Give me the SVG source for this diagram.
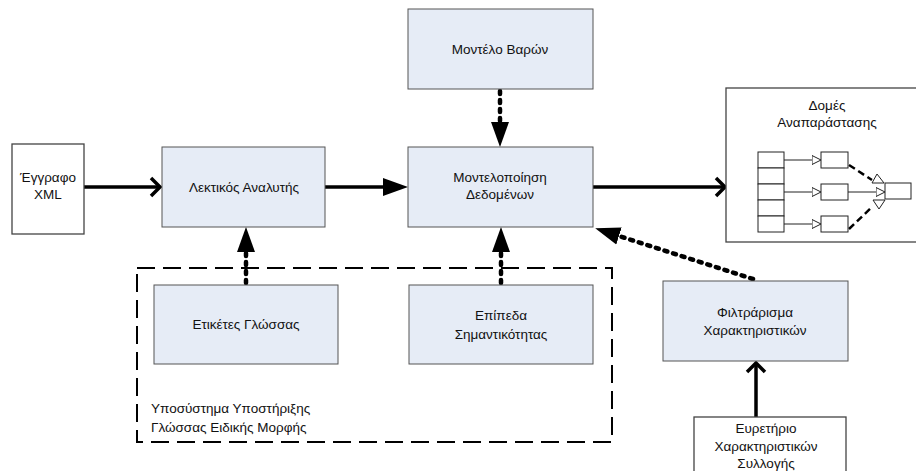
<svg xmlns="http://www.w3.org/2000/svg" width="916" height="471" viewBox="0 0 916 471">
  <style>
    text { font-family: "Liberation Sans", Arial, sans-serif; font-size: 13.5px; fill: #111; }
    .c { text-anchor: middle; }
    .box { fill: #e6ecf6; stroke: #555; stroke-width: 1; }
    .plain { fill: #fff; stroke: #444; stroke-width: 1.3; }
    .solid { fill: none; stroke: #000; stroke-width: 3.5; }
    .dotted { fill: none; stroke: #000; stroke-width: 4.5; stroke-dasharray: 3 6; stroke-linecap: round; }
    .group { fill: none; stroke: #000; stroke-width: 2; stroke-dasharray: 18 8; }
    .cell { fill: #fff; stroke: #222; stroke-width: 1; }
    .thin { fill: none; stroke: #222; stroke-width: 1; }
    .thindash { fill: none; stroke: #000; stroke-width: 2.5; stroke-dasharray: 7 4; }
    .hollow { fill: #fff; stroke: #222; stroke-width: 1; }
  </style>
  <defs>
    <marker id="open" markerUnits="userSpaceOnUse" markerWidth="20" markerHeight="24" viewBox="-12 -12 14 24" refX="0" refY="0" orient="auto">
      <path d="M-9,-9 L0,0 L-9,9" fill="none" stroke="#000" stroke-width="3.5"/>
    </marker>
    <marker id="filled" markerUnits="userSpaceOnUse" markerWidth="28" markerHeight="22" viewBox="0 -11 28 22" refX="0" refY="0" orient="auto">
      <path d="M0,-9 L25,0 L0,9 Z" fill="#000"/>
    </marker>
    <marker id="tri" markerUnits="userSpaceOnUse" markerWidth="12" markerHeight="12" viewBox="0 -6 12 12" refX="0" refY="0" orient="auto">
      <path d="M0,-4.5 L9,0 L0,4.5 Z" class="hollow"/>
    </marker>
  </defs>

  <!-- subsystem frame -->
  <g id="subsystem">
    <rect class="group" x="137" y="268" width="475" height="174"/>
    <text x="151" y="413">Υποσύστημα Υποστήριξης</text>
    <text x="151" y="432">Γλώσσας Ειδικής Μορφής</text>
  </g>

  <g id="connectors">
    <path class="solid" d="M84,187 L160,187" marker-end="url(#open)"/>
    <path class="solid" d="M325,187 L383,187" marker-end="url(#filled)"/>
    <path class="solid" d="M593,187 L725,187" marker-end="url(#open)"/>
    <path class="solid" d="M756,417 L756,363" marker-end="url(#open)"/>
    <path class="dotted" d="M500,91 L500,122" marker-end="url(#filled)"/>
    <path class="dotted" d="M246,283 L246,252" marker-end="url(#filled)"/>
    <path class="dotted" d="M501,283 L501,252" marker-end="url(#filled)"/>
    <path class="dotted" d="M753,279 L619,236" marker-end="url(#filled)"/>
  </g>

  <g id="document">
    <rect class="plain" x="12" y="144" width="72" height="90"/>
    <text class="c" x="48" y="182">Έγγραφο</text>
    <text class="c" x="48" y="199">XML</text>
  </g>

  <g id="lexer">
    <rect class="box" x="162" y="147" width="163" height="80"/>
    <text class="c" x="244" y="192">Λεκτικός Αναλυτής</text>
  </g>

  <g id="weights">
    <rect class="box" x="408" y="9" width="185" height="80"/>
    <text class="c" x="500" y="54">Μοντέλο Βαρών</text>
  </g>

  <g id="modeling">
    <rect class="box" x="408" y="147" width="185" height="80"/>
    <text class="c" x="500" y="182">Μοντελοποίηση</text>
    <text class="c" x="500" y="199">Δεδομένων</text>
  </g>

  <g id="tags">
    <rect class="box" x="154" y="285" width="184" height="79"/>
    <text class="c" x="246" y="329">Ετικέτες Γλώσσας</text>
  </g>

  <g id="levels">
    <rect class="box" x="409" y="285" width="184" height="79"/>
    <text class="c" x="501" y="320">Επίπεδα</text>
    <text class="c" x="501" y="339">Σημαντικότητας</text>
  </g>

  <g id="filtering">
    <rect class="box" x="663" y="281" width="185" height="80"/>
    <text class="c" x="755" y="317">Φιλτράρισμα</text>
    <text class="c" x="755" y="335">Χαρακτηριστικών</text>
  </g>

  <g id="index">
    <rect class="plain" x="694" y="417" width="152" height="70"/>
    <text class="c" x="766" y="433">Ευρετήριο</text>
    <text class="c" x="766" y="451">Χαρακτηριστικών</text>
    <text class="c" x="766" y="468">Συλλογής</text>
  </g>

  <g id="structures">
    <rect class="plain" x="726" y="88" width="202" height="154"/>
    <text class="c" x="827" y="110">Δομές</text>
    <text class="c" x="827" y="127">Αναπαράστασης</text>
    <!-- table column -->
    <rect class="cell" x="758" y="152" width="26" height="16"/>
    <rect class="cell" x="758" y="168" width="26" height="16"/>
    <rect class="cell" x="758" y="184" width="26" height="16"/>
    <rect class="cell" x="758" y="200" width="26" height="16"/>
    <rect class="cell" x="758" y="216" width="26" height="16"/>
    <!-- pointers to entries -->
    <path class="thin" d="M784,160 L812,160" marker-end="url(#tri)"/>
    <path class="thin" d="M784,192 L812,192" marker-end="url(#tri)"/>
    <path class="thin" d="M784,224 L812,224" marker-end="url(#tri)"/>
    <rect class="cell" x="821" y="152" width="27" height="16"/>
    <rect class="cell" x="821" y="184" width="27" height="16"/>
    <rect class="cell" x="821" y="216" width="27" height="16"/>
    <!-- merge into result -->
    <path class="thin" d="M848,192 L876,192" marker-end="url(#tri)"/>
    <path class="thindash" d="M849,165 L872,180"/>
    <path class="thindash" d="M849,229 L872,207"/>
    <path class="hollow" d="M877,174 L872,183 L884,183 Z"/>
    <path class="hollow" d="M873,200 L885,200 L879,209 Z"/>
    <rect class="cell" x="885" y="183" width="26" height="16"/>
  </g>
</svg>
